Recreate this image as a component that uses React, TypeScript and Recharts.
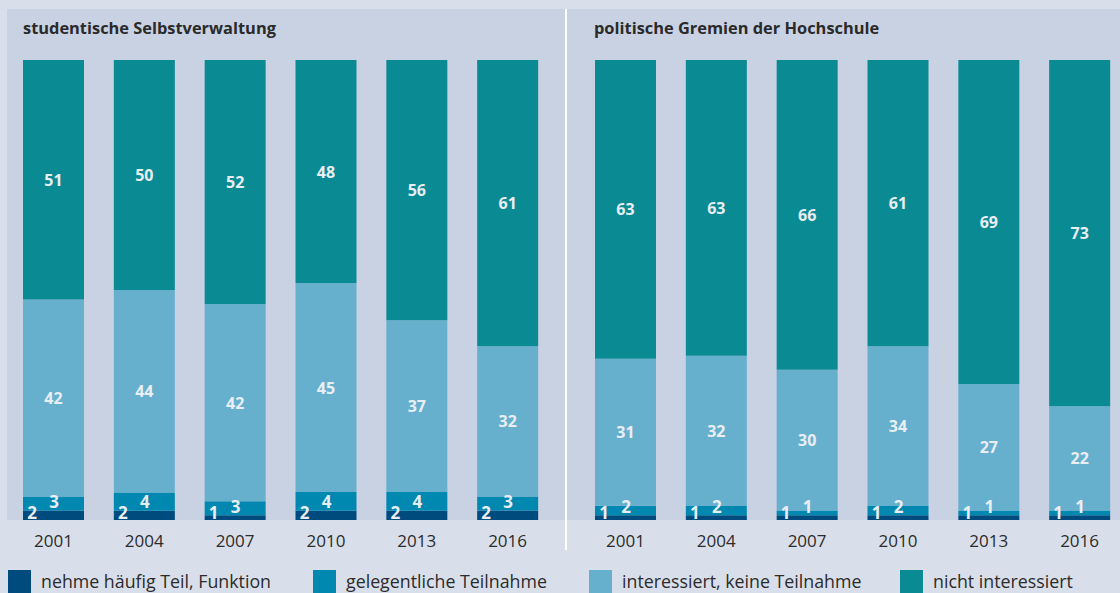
import React from 'react';
import { BarChart, Bar, XAxis, YAxis, LabelList } from 'recharts';

const years = ['2001', '2004', '2007', '2010', '2013', '2016'];

// studentische Selbstverwaltung
const svHaeufig = [2, 2, 1, 2, 2, 2];
const svGelegentlich = [3, 4, 3, 4, 4, 3];
const svInteressiert = [42, 44, 42, 45, 37, 32];
const svNicht = [51, 50, 52, 48, 56, 61];

// politische Gremien der Hochschule
const pgHaeufig = [1, 1, 1, 1, 1, 1];
const pgGelegentlich = [2, 2, 1, 2, 1, 1];
const pgInteressiert = [31, 32, 30, 34, 27, 22];
const pgNicht = [63, 63, 66, 61, 69, 73];

const legendLabels = [
  'nehme häufig Teil, Funktion',
  'gelegentliche Teilnahme',
  'interessiert, keine Teilnahme',
  'nicht interessiert',
];

const colors = ['#004b7d', '#0088b1', '#66b0ce', '#0a8a93'];
const FONT = '"Open Sans", sans-serif';
const LABEL_COLOR = '#e9eef3';

const buildRows = (a: number[], b: number[], c: number[], d: number[]) =>
  years.map((year, i) => ({ year, haeufig: a[i], gelegentlich: b[i], interessiert: c[i], nicht: d[i] }));

const svData = buildRows(svHaeufig, svGelegentlich, svInteressiert, svNicht);
const pgData = buildRows(pgHaeufig, pgGelegentlich, pgInteressiert, pgNicht);

const centerLabel = (values: number[]) => (props: any) => {
  const { x, y, width, height, index } = props;
  return (
    <text x={x + width / 2} y={y + height / 2} fill={LABEL_COLOR} fontSize={16} fontWeight={700}
      fontFamily={FONT} textAnchor="middle" dominantBaseline="central">
      {values[index]}
    </text>
  );
};

const bottomLabel = (values: number[]) => (props: any) => {
  const { x, y, height, index } = props;
  return (
    <text x={x + 9} y={y + height - 1} fill={LABEL_COLOR} fontSize={17} fontWeight={700}
      fontFamily={FONT} textAnchor="middle">
      {values[index]}
    </text>
  );
};

const smallLabel = (values: number[]) => (props: any) => {
  const { x, y, height, index } = props;
  return (
    <text x={x + 31} y={y + height - 9} fill={LABEL_COLOR} fontSize={17} fontWeight={700}
      fontFamily={FONT} textAnchor="middle" dominantBaseline="central">
      {values[index]}
    </text>
  );
};

const YearTick = (props: any) => {
  const { x, y, payload } = props;
  return (
    <text x={x} y={y + 18} fill="#2b2b2b" fontSize={17} fontFamily={FONT} textAnchor="middle" dominantBaseline="central">
      {payload.value}
    </text>
  );
};

type PanelProps = {
  data: any[];
  a: number[];
  b: number[];
  c: number[];
  d: number[];
};

const Panel: React.FC<PanelProps> = ({ data, a, b, c, d }) => (
  <BarChart width={545} height={495} data={data} stackOffset="expand" margin={{ top: 0, right: 0, bottom: 0, left: 0 }}>
    <XAxis dataKey="year" axisLine={false} tickLine={false} tickSize={0} height={35} tick={<YearTick />} interval={0} />
    <YAxis hide domain={[0, 1]} />
    <Bar dataKey="haeufig" stackId="s" fill={colors[0]} barSize={61} isAnimationActive={false}>
      <LabelList content={bottomLabel(a)} />
    </Bar>
    <Bar dataKey="gelegentlich" stackId="s" fill={colors[1]} barSize={61} isAnimationActive={false}>
      <LabelList content={smallLabel(b)} />
    </Bar>
    <Bar dataKey="interessiert" stackId="s" fill={colors[2]} barSize={61} isAnimationActive={false}>
      <LabelList content={centerLabel(c)} />
    </Bar>
    <Bar dataKey="nicht" stackId="s" fill={colors[3]} barSize={61} isAnimationActive={false}>
      <LabelList content={centerLabel(d)} />
    </Bar>
  </BarChart>
);

const legendPos = [8, 313, 589, 900];

export default function App() {
  return (
    <div style={{ position: 'absolute', left: 0, top: 0, width: 1120, height: 593, overflow: 'hidden', background: '#d9dfea', fontFamily: FONT }}>
      <div style={{ position: 'absolute', left: 7, top: 9, width: 1113, height: 511, background: '#c9d2e3' }} />
      <div style={{ position: 'absolute', left: 565, top: 9, width: 2, height: 541, background: '#ffffff' }} />
      <div style={{ position: 'absolute', left: 23, top: 16, fontSize: 16.4, fontWeight: 700, color: '#2a2a2a' }}>
        studentische Selbstverwaltung
      </div>
      <div style={{ position: 'absolute', left: 594, top: 16, fontSize: 16.4, fontWeight: 700, color: '#2a2a2a' }}>
        politische Gremien der Hochschule
      </div>
      <div style={{ position: 'absolute', left: 8, top: 60 }}>
        <Panel data={svData} a={svHaeufig} b={svGelegentlich} c={svInteressiert} d={svNicht} />
      </div>
      <div style={{ position: 'absolute', left: 580, top: 60 }}>
        <Panel data={pgData} a={pgHaeufig} b={pgGelegentlich} c={pgInteressiert} d={pgNicht} />
      </div>
      {legendLabels.map((label, i) => (
        <div key={label} style={{ position: 'absolute', left: legendPos[i], top: 570, display: 'flex', alignItems: 'center' }}>
          <div style={{ width: 23, height: 23, background: colors[i] }} />
          <span style={{ marginLeft: 10, fontSize: 17.8, color: '#2b2b2b', lineHeight: '23px' }}>{label}</span>
        </div>
      ))}
    </div>
  );
}
